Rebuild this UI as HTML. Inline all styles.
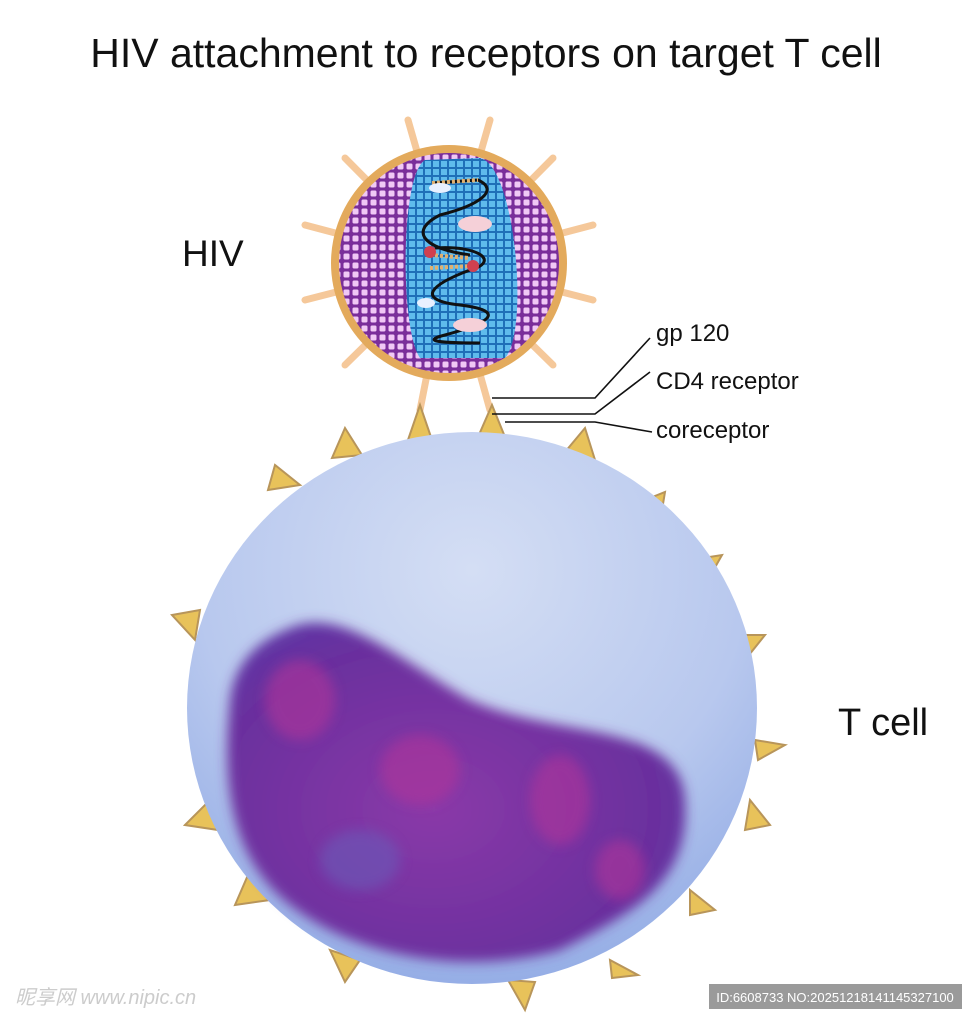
<!DOCTYPE html>
<html><head><style>
body{margin:0;background:#fff;width:977px;height:1024px;overflow:hidden;font-family:"Liberation Sans","DejaVu Sans",sans-serif}
</style></head><body>
<svg width="977" height="1024" viewBox="0 0 977 1024" xmlns="http://www.w3.org/2000/svg">
<defs>
<pattern id="dots" width="9" height="9" patternUnits="userSpaceOnUse">
<rect width="9" height="9" fill="#7a2e9a"/><rect x="1.5" y="1.5" width="6" height="6" rx="1.5" fill="#f0c8f5"/>
</pattern>
<pattern id="grid" width="8" height="8" patternUnits="userSpaceOnUse">
<rect width="8" height="8" fill="#1f6fb8"/><rect x="1" y="1" width="6" height="6" fill="#5fbbec"/>
</pattern>
<radialGradient id="cell" cx="0.5" cy="0.25" r="0.8">
<stop offset="0" stop-color="#d4def4"/><stop offset="0.6" stop-color="#b8c8ee"/><stop offset="1" stop-color="#8fa9e4"/>
</radialGradient>
<radialGradient id="nuc" cx="0.45" cy="0.55" r="0.7">
<stop offset="0" stop-color="#8a3aa8"/><stop offset="0.7" stop-color="#6a2f9e"/><stop offset="1" stop-color="#5a3aa8"/>
</radialGradient>
<filter id="blur"><feGaussianBlur stdDeviation="6"/></filter>
<clipPath id="vc"><circle cx="449" cy="263" r="110"/></clipPath>
</defs>
<text x="486" y="67" text-anchor="middle" font-size="41" fill="#111">HIV attachment to receptors on target T cell</text>
<text x="182" y="266" font-size="37" fill="#111">HIV</text>
<text x="838" y="735" font-size="38" fill="#111">T cell</text>
<text x="656" y="341" font-size="24" fill="#111">gp 120</text>
<text x="656" y="389" font-size="24" fill="#111">CD4 receptor</text>
<text x="656" y="438" font-size="24" fill="#111">coreceptor</text>
<g stroke="#f5c89a" stroke-width="7" stroke-linecap="round">
<line x1="449" y1="263" x2="408" y2="120"/><line x1="449" y1="263" x2="490" y2="120"/>
<line x1="449" y1="263" x2="345" y2="158"/><line x1="449" y1="263" x2="553" y2="158"/>
<line x1="449" y1="263" x2="305" y2="225"/><line x1="449" y1="263" x2="593" y2="225"/>
<line x1="449" y1="263" x2="305" y2="300"/><line x1="449" y1="263" x2="593" y2="300"/>
<line x1="449" y1="263" x2="345" y2="365"/><line x1="449" y1="263" x2="553" y2="365"/>
<line x1="449" y1="263" x2="420" y2="410"/><line x1="449" y1="263" x2="490" y2="410"/>
</g>
<g fill="#e8c25a" stroke="#b8955a" stroke-width="2">
<path d="M408,440 L420,405 L432,440Z"/><path d="M478,437 L492,405 L505,437Z"/>
<path d="M332,458 L345,428 L362,455Z"/><path d="M565,452 L585,428 L595,460Z"/>
<path d="M268,490 L275,465 L300,485Z"/><path d="M640,502 L665,492 L660,522Z"/>
<path d="M690,560 L722,555 L705,585Z"/><path d="M172,615 L200,610 L195,640Z"/>
<path d="M735,635 L765,635 L745,660Z"/><path d="M755,740 L785,745 L758,760Z"/>
<path d="M750,800 L770,825 L745,830Z"/><path d="M185,825 L210,800 L218,830Z"/>
<path d="M690,890 L715,910 L690,915Z"/><path d="M235,905 L248,875 L270,900Z"/>
<path d="M610,960 L638,975 L612,978Z"/><path d="M330,950 L345,982 L360,960Z"/>
<path d="M508,980 L525,1010 L535,982Z"/>
</g>
<ellipse cx="472" cy="708" rx="285" ry="276" fill="url(#cell)"/>
<path d="M290,628 C340,605 400,660 470,700 C560,740 680,720 685,800 C690,880 640,910 560,950 C470,975 360,960 290,905 C220,850 225,760 230,700 C235,660 260,640 290,628Z" fill="url(#nuc)" filter="url(#blur)"/>
<g filter="url(#blur)" opacity="0.6">
<ellipse cx="300" cy="700" rx="35" ry="40" fill="#b0359a"/>
<ellipse cx="420" cy="770" rx="40" ry="35" fill="#b0359a"/>
<ellipse cx="560" cy="800" rx="30" ry="45" fill="#b0359a"/>
<ellipse cx="360" cy="860" rx="40" ry="30" fill="#6a5ab8"/>
<ellipse cx="620" cy="870" rx="25" ry="30" fill="#b0359a"/>
</g>
<circle cx="449" cy="263" r="118" fill="#e3aa5c"/>
<circle cx="449" cy="263" r="110" fill="url(#dots)"/>
<g clip-path="url(#vc)">
<path d="M425,160 L480,158 C515,165 530,330 505,358 L420,358 C400,330 400,175 425,160Z" fill="url(#grid)"/>
</g>
<path d="M432,183 L478,180 C500,190 480,205 440,215 C410,230 420,248 470,255 M435,248 C480,245 500,262 470,270 C430,285 415,300 460,305 C500,310 500,320 445,335 C425,340 430,343 480,343" fill="none" stroke="#111" stroke-width="3"/>
<path d="M432,183 L478,180 M430,255 L470,258 M430,268 L472,266" stroke="#e0b070" stroke-width="4" stroke-dasharray="3,2" fill="none"/>
<circle cx="430" cy="252" r="6" fill="#d04050"/><circle cx="473" cy="266" r="6" fill="#d04050"/>
<ellipse cx="475" cy="224" rx="17" ry="8" fill="#f5d0d8"/>
<ellipse cx="470" cy="325" rx="17" ry="7" fill="#f5d0d8"/>
<ellipse cx="440" cy="188" rx="11" ry="5" fill="#e8f0ff"/>
<ellipse cx="426" cy="303" rx="9" ry="5" fill="#e8f0ff"/>
<g stroke="#111" stroke-width="1.6" fill="none">
<polyline points="492,398 595,398 650,338"/>
<polyline points="492,414 595,414 650,372"/>
<polyline points="505,422 595,422 652,432"/>
</g>
<text x="15" y="1004" font-size="20" fill="#ccc" font-style="italic" font-family="'Liberation Sans','Noto Sans CJK SC',sans-serif">昵享网 www.nipic.cn</text>
<rect x="709" y="984" width="253" height="25" fill="#9a9a9a"/>
<text x="835" y="1002" text-anchor="middle" font-size="13" fill="#fff">ID:6608733 NO:20251218141145327100</text>
</svg>
</body></html>
